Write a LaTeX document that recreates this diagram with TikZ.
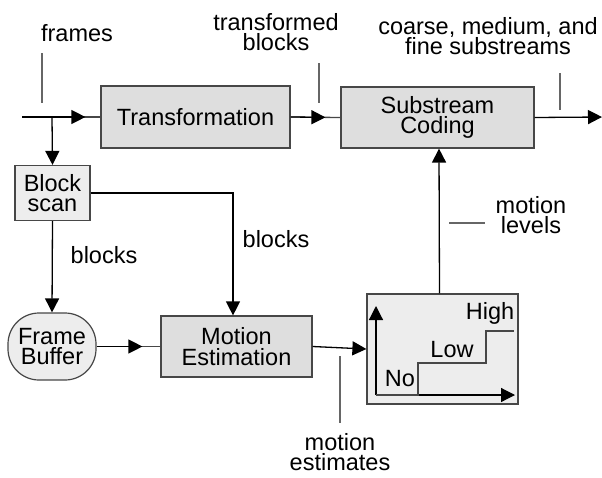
\documentclass[tikz,border=0pt]{standalone}
\usepackage{fontspec}
\setmainfont{Liberation Sans}
\usetikzlibrary{arrows.meta}
\begin{document}
\begin{tikzpicture}[x=1pt,y=-1pt,
  every node/.style={font=\fontsize{23.5}{20.5}\selectfont, align=center, inner sep=0pt},
  ln/.style={draw=black!72, line width=1.3pt},
  box/.style={draw=black!72, line width=1.2pt, fill=black!13},
  lbox/.style={draw=black!72, line width=1.2pt, fill=black!7},
  arr/.style={ln, -{Triangle[length=14pt,width=14pt]}, black},
  tick/.style={draw=black!60, line width=1.2pt}
]
\useasboundingbox (0,0) rectangle (602,477);
% nodes
\node[box, minimum width=189pt, minimum height=62pt] (tr) at (195.5,117) {Transformation};
\node[box, minimum width=193pt, minimum height=61pt] (sc) at (437.5,117.5) {Substream\\Coding};
\node[lbox, minimum width=75pt, minimum height=55pt] (bs) at (52.5,193) {Block\\scan};
\node[lbox, minimum width=88pt, minimum height=67pt, rounded corners=31pt] (fb) at (52,346.5) {Frame\\Buffer};
\node[box, minimum width=151pt, minimum height=61pt] (me) at (236.5,346.5) {Motion\\Estimation};
\node[lbox, minimum width=151pt, minimum height=110pt] (lv) at (442.5,349) {};
% coordinates
\coordinate (in) at (22,117);
\coordinate (br) at (52,117);
\coordinate (out) at (602,117);
% main line
\draw[ln] (in) -- (tr.west);
\draw[arr, shorten >=15pt] (in) -- (tr.west);
\draw[ln] (tr.east) -- (sc.west);
\draw[arr, shorten >=15pt] (tr.east) -- (sc.west);
\draw[arr] (sc.east) -- (out);
% branch
\draw[arr] (br) -- (bs.north);
\draw[arr] (bs.south) -- (fb.north);
\draw[arr] (bs.east) -| ([xshift=-3.5pt]me.north);
\draw[ln] (fb.east) -- (me.west);
\draw[arr, shorten >=18pt] (fb.east) -- (me.west);
\draw[arr] (me.east) -- (lv.west);
\draw[arr] ([xshift=-3pt]lv.north) -- ([xshift=1.5pt]sc.south);
% levels graph
\coordinate (o) at (376,395);
\coordinate (ya) at (376,306);
\coordinate (xa) at (515,395);
\draw[arr, line width=1.2pt] (o) -- (ya);
\draw[arr, line width=1.2pt] (o) -- (xa);
\draw[ln, line width=1.2pt] (o) -- (418,395) -- (418,363) -- (486,363) -- (486,331) -- (514,331);
\node (no) at (400,379) {No};
\node (low) at (452,350) {Low};
\node (high) at (490,313) {High};
% labels
\node (lfr) at (77,33) {frames};
\draw[tick] (42,53) -- (42,103);
\node (ltb) at (276,32) {transformed\\blocks};
\draw[tick] (319,63) -- (319,103);
\node (lcs) at (488,36) {coarse, medium, and\\fine substreams};
\draw[tick] (560,73) -- (560,110);
\node (lb1) at (104,255) {blocks};
\node (lb2) at (276,239) {blocks};
\node (lml) at (531,215) {motion\\levels};
\draw[tick] (449,223) -- (485,223);
\node (lme) at (340,452) {motion\\estimates};
\draw[tick] (340,356) -- (340,423);
\end{tikzpicture}
\end{document}
